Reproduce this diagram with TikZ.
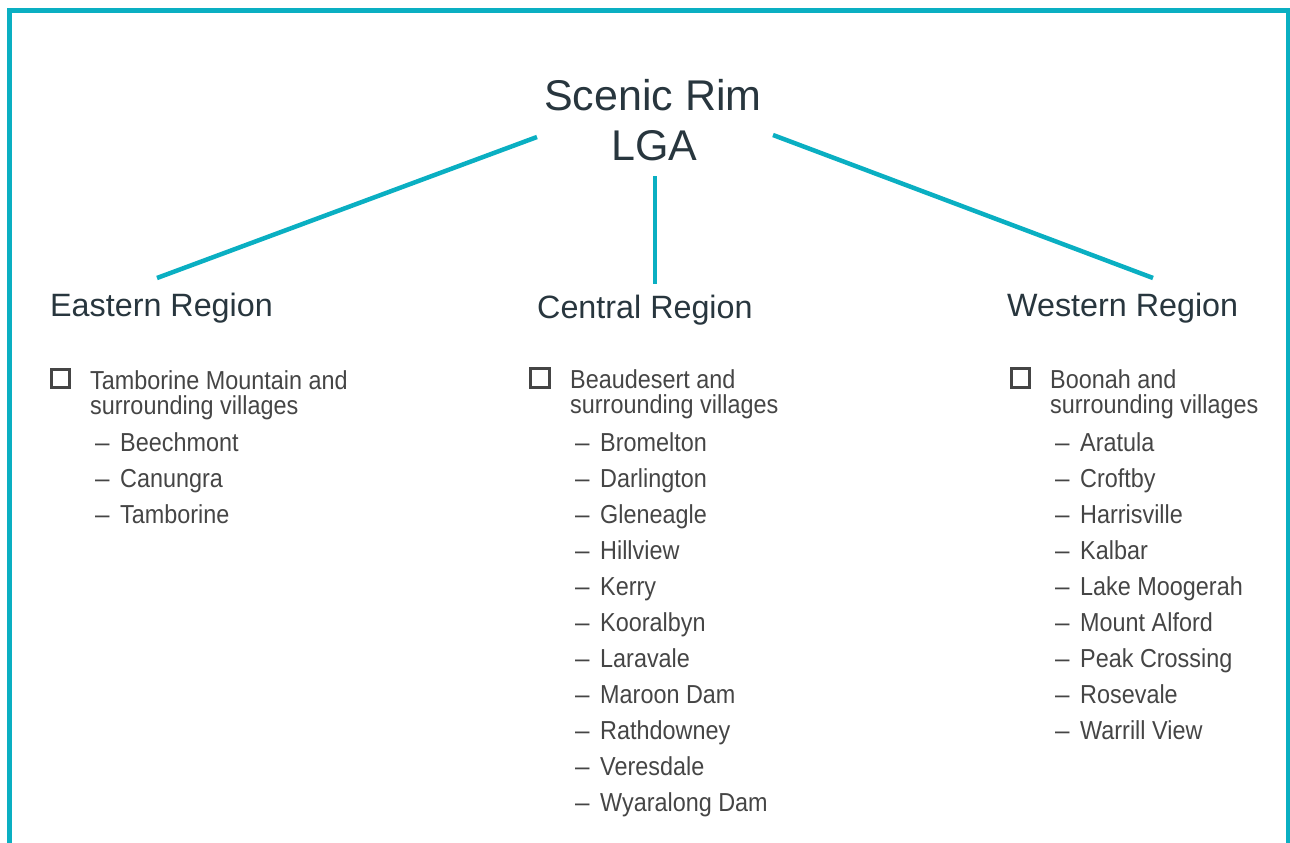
\documentclass[tikz,border=0pt]{standalone}
\usepackage{fontspec}
\setmainfont{Liberation Sans}
\newfontfamily\narrowfont[FakeStretch=0.9]{Liberation Sans}
\definecolor{rimteal}{HTML}{0AAFC2}
\definecolor{titlecol}{HTML}{28363E}
\definecolor{itemcol}{HTML}{454545}
\tikzset{
  frameline/.style={draw=rimteal, line width=5pt},
  link/.style={draw=rimteal, line width=4.5pt},
  maintitle/.style={inner sep=0pt, anchor=base, text=titlecol, font=\fontsize{43}{50}\selectfont},
  regiontitle/.style={inner sep=0pt, anchor=base west, text=titlecol, font=\fontsize{32.3}{38}\selectfont},
  itemtext/.style={inner sep=0pt, anchor=base west, text=itemcol, font=\narrowfont\fontsize{26}{30}\selectfont},
  dashtext/.style={inner sep=0pt, anchor=base west, text=itemcol, font=\fontsize{26}{30}\selectfont},
  checkbox/.style={draw=itemcol, line width=2.8pt, minimum size=18.5pt, inner sep=0pt, outer sep=0pt},
}
\begin{document}
\begin{tikzpicture}[x=1pt,y=-1pt]
\useasboundingbox (0,0) rectangle (1290,843);
% frame
\draw[frameline] (9.5,850) -- (9.5,10.5) -- (1288.5,10.5) -- (1288.5,850);
% title
\node[maintitle] (title1) at (653,110) {Scenic Rim};
\node[maintitle] (title2) at (654.5,160) {LGA};
% regions
\node[regiontitle] (east) at (50,316) {Eastern Region};
\node[regiontitle] (central) at (537,318) {Central Region};
\node[regiontitle] (west) at (1007,316) {Western Region};
% connectors
\coordinate (tl) at (537,137);
\coordinate (tc) at (655,176);
\coordinate (tr) at (773,135);
\coordinate (el) at (157,278);
\coordinate (cl) at (655,284);
\coordinate (wl) at (1153,278);
\draw[link] (tl) -- (el);
\draw[link] (tc) -- (cl);
\draw[link] (tr) -- (wl);
% eastern list
\node[checkbox] (ebox) at (60.5,378.5) {};
\node[itemtext] (eh1) at (90,389) {Tamborine Mountain and};
\node[itemtext] (eh2) at (90,414) {surrounding villages};
\foreach \n [count=\i from 0] in {Beechmont,Canungra,Tamborine}{
  \node[dashtext] (ed\i) at (95,451+36*\i) {–};
  \node[itemtext] (ei\i) at (120,451+36*\i) {\n};
}
% central list
\node[checkbox] (cbox) at (540,378) {};
\node[itemtext] (ch1) at (570,388) {Beaudesert and};
\node[itemtext] (ch2) at (570,413) {surrounding villages};
\foreach \n [count=\i from 0] in {Bromelton,Darlington,Gleneagle,Hillview,Kerry,Kooralbyn,Laravale,Maroon Dam,Rathdowney,Veresdale,Wyaralong Dam}{
  \node[dashtext] (cd\i) at (575,451+36*\i) {–};
  \node[itemtext] (ci\i) at (600,451+36*\i) {\n};
}
% western list
\node[checkbox] (wbox) at (1020.5,378) {};
\node[itemtext] (wh1) at (1050,388) {Boonah and};
\node[itemtext] (wh2) at (1050,413) {surrounding villages};
\foreach \n [count=\i from 0] in {Aratula,Croftby,Harrisville,Kalbar,Lake Moogerah,Mount Alford,Peak Crossing,Rosevale,Warrill View}{
  \node[dashtext] (wd\i) at (1055,451+36*\i) {–};
  \node[itemtext] (wi\i) at (1080,451+36*\i) {\n};
}
\end{tikzpicture}
\end{document}
